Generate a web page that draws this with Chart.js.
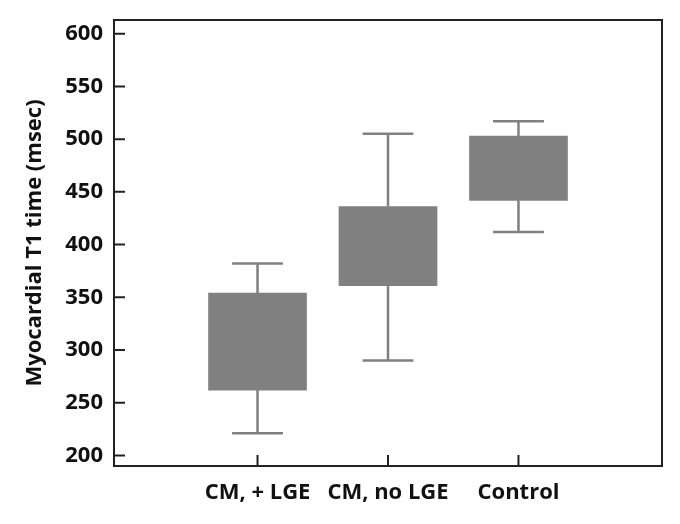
<!DOCTYPE html>
<html>
<head>
<meta charset="utf-8">
<script src="https://cdn.jsdelivr.net/npm/chart.js@4.4.1/dist/chart.umd.min.js"></script>
<style>
  html, body { margin: 0; padding: 0; background: #ffffff; }
  #wrap { width: 680px; height: 524px; position: relative; }
</style>
</head>
<body>
<div id="wrap"><canvas id="box"></canvas></div>
<script>
// ─── Data ────────────────────────────────────────────────────────────────
const categories  = ["CM, + LGE", "CM, no LGE", "Control"];
const positions   = [1, 2, 3];
const whiskerLow  = [221, 290, 412];
const boxLow      = [262, 361, 442];
const boxHigh     = [354, 436, 503];
const whiskerHigh = [382, 505, 517];
const yTicks      = [200, 250, 300, 350, 400, 450, 500, 550, 600];

const FONT   = "'Open Sans', sans-serif";
const GRAY   = "#808080";
const FRAME  = "#222222";

// whiskers, caps, frame and inward ticks
const boxExtras = {
    id: "boxExtras",
    afterDatasetsDraw(chart) {
        const { ctx, chartArea: a, scales: { x, y } } = chart;
        ctx.save();

        ctx.strokeStyle = GRAY;
        ctx.lineWidth = 2.5;
        positions.forEach((p, i) => {
            const cx = x.getPixelForValue(p);
            const half = (x.getPixelForValue(p + 0.195) - cx);
            [[boxHigh[i], whiskerHigh[i]], [boxLow[i], whiskerLow[i]]].forEach(([from, to]) => {
                const y0 = y.getPixelForValue(from);
                const y1 = y.getPixelForValue(to);
                ctx.beginPath();
                ctx.moveTo(cx, y0);
                ctx.lineTo(cx, y1);
                ctx.moveTo(cx - half, y1);
                ctx.lineTo(cx + half, y1);
                ctx.stroke();
            });
        });

        ctx.strokeStyle = FRAME;
        ctx.lineWidth = 2;
        ctx.strokeRect(a.left, a.top, a.right - a.left, a.bottom - a.top);

        ctx.beginPath();
        yTicks.forEach((v) => {
            const py = y.getPixelForValue(v);
            ctx.moveTo(a.left, py);
            ctx.lineTo(a.left + 11, py);
        });
        positions.forEach((p) => {
            const px = x.getPixelForValue(p);
            ctx.moveTo(px, a.bottom);
            ctx.lineTo(px, a.bottom - 11);
        });
        ctx.stroke();
        ctx.restore();
    },
};

new Chart(document.getElementById("box"), {
    type: "bar",
    data: {
        datasets: [{
            data: positions.map((p, i) => ({ x: p, y: [boxLow[i], boxHigh[i]] })),
            backgroundColor: GRAY,
            borderWidth: 0,
            barThickness: 98,
        }],
    },
    options: {
        responsive: true,
        maintainAspectRatio: false,
        animation: false,
        layout: { padding: { top: 20, right: 18, left: 22, bottom: 0 } },
        plugins: {
            legend:  { display: false },
            tooltip: { enabled: false },
        },
        scales: {
            x: {
                type: "linear",
                offset: false,
                min: -0.1,
                max: 4.1,
                grid:   { display: false, drawTicks: false, offset: false },
                border: { display: false },
                afterBuildTicks: (s) => { s.ticks = positions.map((v) => ({ value: v })); },
                afterFit: (s) => { s.height = 58; s.paddingLeft = 0; s.paddingRight = 0; },
                ticks: {
                    color: "#111",
                    padding: 14,
                    maxRotation: 0,
                    autoSkip: false,
                    font: { family: FONT, size: 22, weight: "bold" },
                    callback: (v) => categories[positions.indexOf(v)] ?? "",
                },
            },
            y: {
                min: 190,
                max: 613,
                grid:   { display: false, drawTicks: false },
                border: { display: false },
                afterBuildTicks: (s) => { s.ticks = yTicks.map((v) => ({ value: v })); },
                afterFit: (s) => { s.width = 92; s.paddingTop = 0; s.paddingBottom = 0; },
                ticks: {
                    color: "#111",
                    padding: 11,
                    font: { family: FONT, size: 22, weight: "bold" },
                },
                title: {
                    display: true,
                    text: "Myocardial T1 time (msec)",
                    color: "#111",
                    padding: { top: 0, bottom: 4 },
                    font: { family: FONT, size: 22, weight: "bold" },
                },
            },
        },
    },
    plugins: [boxExtras],
});
</script>
</body>
</html>
